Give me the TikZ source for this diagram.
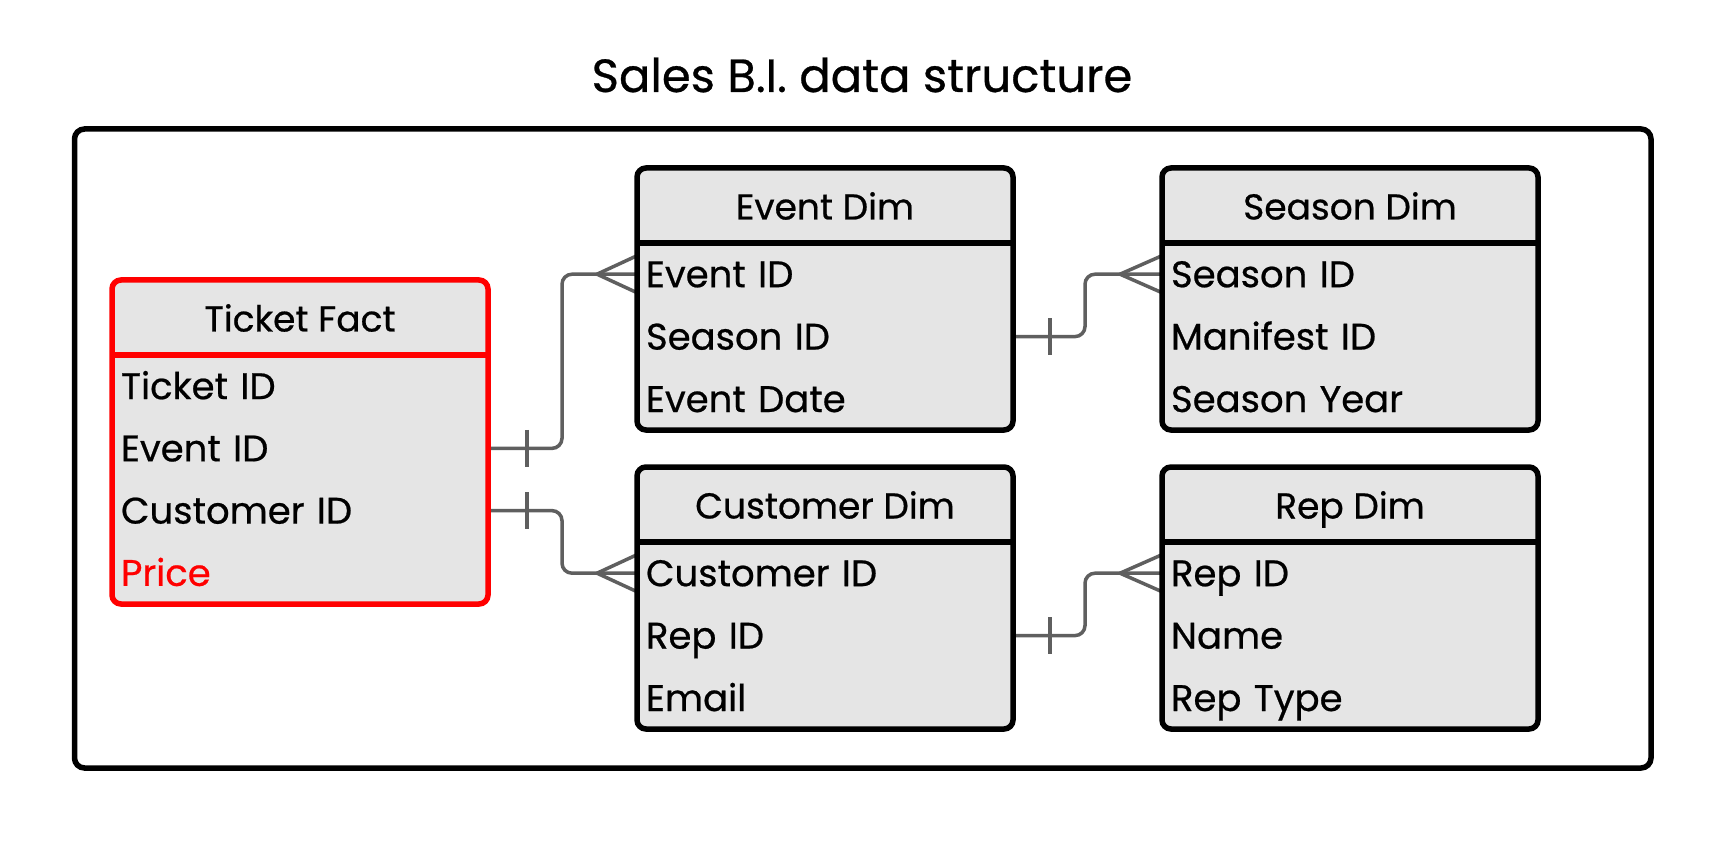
\documentclass[tikz,border=0pt]{standalone}
\usepackage{fontspec}
\setmainfont{Poppins}[FakeBold=0.6]
\usetikzlibrary{calc}
\pgfdeclarelayer{background}
\pgfsetlayers{background,main}
\definecolor{boxgray}{HTML}{E5E5E5}
\definecolor{conngray}{HTML}{5F5F5F}
\definecolor{erred}{HTML}{FF0000}
\tikzset{
  tbl/.style={draw=black, line width=5.5pt, fill=boxgray, rounded corners=9pt,
    inner sep=0pt, outer sep=0pt, anchor=north west, minimum width=376pt},
  hdr/.style={inner sep=0pt, outer sep=0pt, minimum width=376pt, minimum height=75pt,
    anchor=north, font=\fontsize{36}{40}\selectfont, text height=33pt, text depth=5pt},
  fld/.style={inner xsep=9pt, inner ysep=0pt, outer sep=0pt, text width=358pt, align=left,
    minimum height=62.4pt, anchor=north, font=\fontsize{37}{40}\selectfont,
    text height=31pt, text depth=5pt},
  divider/.style={line width=5.5pt},
  conn/.style={draw=conngray, line width=3.5pt, rounded corners=10pt},
  crow/.style={draw=conngray, line width=3.5pt, line join=round},
  onebar/.style={draw=conngray, line width=3.5pt},
  frame/.style={draw=black, line width=5.5pt, rounded corners=10pt},
}
\begin{document}
\begin{tikzpicture}[x=1pt,y=-1pt]
\useasboundingbox (0,0) rectangle (1725,842);
\draw[frame] (74.5,129) rectangle (1651,768);
\node[anchor=base, inner sep=0pt, font=\fontsize{46.5}{48}\selectfont] (title) at (862,92) {Sales B.I. data structure};

% Ticket Fact
\node[tbl, draw=erred, minimum height=324pt] (tf) at (112,280) {};
\node[hdr] (tf-h) at (tf.north) {Ticket Fact};
\draw[divider, draw=erred] (tf-h.south west) -- (tf-h.south east);
\node[fld, minimum height=62.25pt] (tf-1) at (tf-h.south) {Ticket ID};
\node[fld, minimum height=62.25pt] (tf-2) at (tf-1.south) {Event ID};
\node[fld, minimum height=62.25pt] (tf-3) at (tf-2.south) {Customer ID};
\node[fld, minimum height=62.25pt, text=erred] (tf-4) at (tf-3.south) {Price};

% Event Dim
\node[tbl, minimum height=262pt] (ed) at (637,168) {};
\node[hdr] (ed-h) at (ed.north) {Event Dim};
\draw[divider] (ed-h.south west) -- (ed-h.south east);
\node[fld] (ed-1) at (ed-h.south) {Event ID};
\node[fld] (ed-2) at (ed-1.south) {Season ID};
\node[fld] (ed-3) at (ed-2.south) {Event Date};

% Season Dim
\node[tbl, minimum height=262pt] (sd) at (1162,168) {};
\node[hdr] (sd-h) at (sd.north) {Season Dim};
\draw[divider] (sd-h.south west) -- (sd-h.south east);
\node[fld] (sd-1) at (sd-h.south) {Season ID};
\node[fld] (sd-2) at (sd-1.south) {Manifest ID};
\node[fld] (sd-3) at (sd-2.south) {Season Year};

% Customer Dim
\node[tbl, minimum height=262pt] (cd) at (637,467) {};
\node[hdr] (cd-h) at (cd.north) {Customer Dim};
\draw[divider] (cd-h.south west) -- (cd-h.south east);
\node[fld] (cd-1) at (cd-h.south) {Customer ID};
\node[fld] (cd-2) at (cd-1.south) {Rep ID};
\node[fld] (cd-3) at (cd-2.south) {Email};

% Rep Dim
\node[tbl, minimum height=262pt] (rd) at (1162,467) {};
\node[hdr] (rd-h) at (rd.north) {Rep Dim};
\draw[divider] (rd-h.south west) -- (rd-h.south east);
\node[fld] (rd-1) at (rd-h.south) {Rep ID};
\node[fld] (rd-2) at (rd-1.south) {Name};
\node[fld] (rd-3) at (rd-2.south) {Rep Type};

\begin{pgfonlayer}{background}
% Ticket Fact -> Event Dim
\draw[conn] (tf-2.east) -- ++(74,0) |- (ed-1.west);
\draw[onebar] ($(tf-2.east)+(39,-18.5)$) -- ++(0,37);
\draw[crow] ($(ed-1.west)+(0,-18.5)$) -- ($(ed-1.west)+(-40,0)$) -- ($(ed-1.west)+(0,18.5)$);
% Ticket Fact -> Customer Dim
\draw[conn] (tf-3.east) -- ++(74,0) |- (cd-1.west);
\draw[onebar] ($(tf-3.east)+(39,-18.5)$) -- ++(0,37);
\draw[crow] ($(cd-1.west)+(0,-18.5)$) -- ($(cd-1.west)+(-40,0)$) -- ($(cd-1.west)+(0,18.5)$);
% Event Dim -> Season Dim
\draw[conn] (ed-2.east) -- ++(72,0) |- (sd-1.west);
\draw[onebar] ($(ed-2.east)+(37,-18.5)$) -- ++(0,37);
\draw[crow] ($(sd-1.west)+(0,-18.5)$) -- ($(sd-1.west)+(-42,0)$) -- ($(sd-1.west)+(0,18.5)$);
% Customer Dim -> Rep Dim
\draw[conn] (cd-2.east) -- ++(72,0) |- (rd-1.west);
\draw[onebar] ($(cd-2.east)+(37,-18.5)$) -- ++(0,37);
\draw[crow] ($(rd-1.west)+(0,-18.5)$) -- ($(rd-1.west)+(-42,0)$) -- ($(rd-1.west)+(0,18.5)$);
\end{pgfonlayer}
\end{tikzpicture}
\end{document}
